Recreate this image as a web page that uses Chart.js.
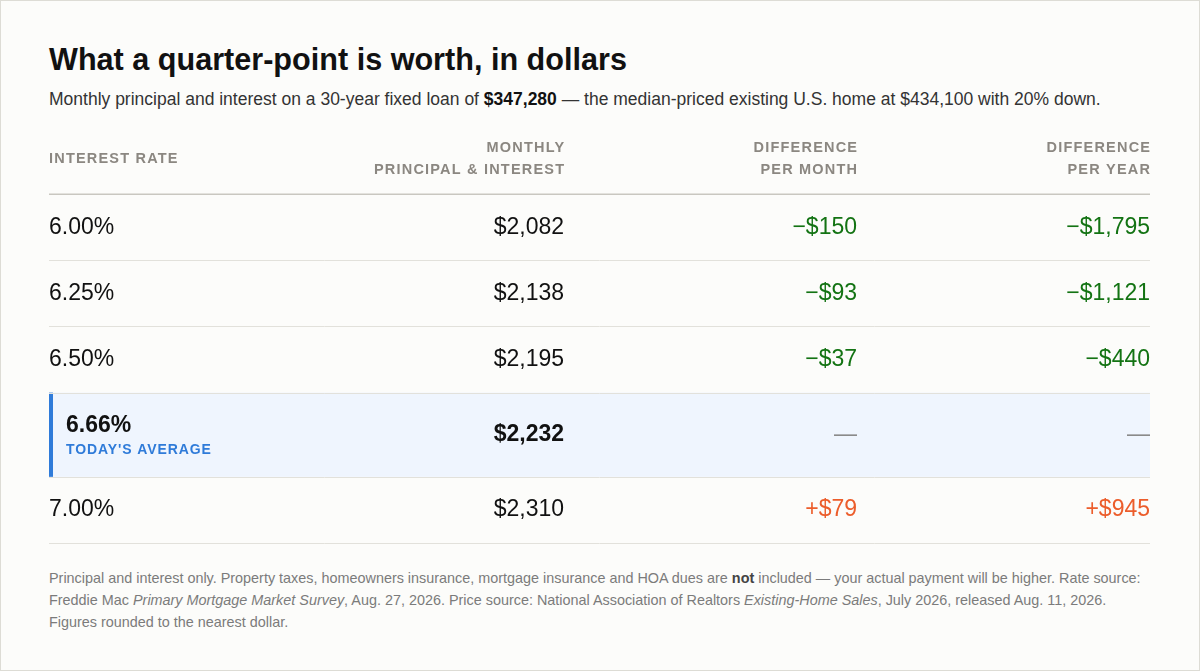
<!DOCTYPE html>
<html>
<head>
<meta charset="utf-8">
<script src="https://cdn.jsdelivr.net/npm/chart.js@4/dist/chart.umd.min.js"></script>
<style>
  html, body { margin: 0; padding: 0; }
  body { width: 1200px; height: 671px; overflow: hidden; font-family: "Liberation Sans", Arial, sans-serif; }
  .card { position: relative; width: 1198px; height: 669px; border: 1px solid #dddcd5; background: #fcfcfa; }
  .title { position: absolute; left: 48px; top: 41px; font-size: 30.6px; line-height: 34px; font-weight: bold; color: #111; white-space: nowrap; }
  .sub { position: absolute; left: 48px; top: 87px; font-size: 17.5px; line-height: 22px; color: #333; white-space: nowrap; }
  .sub b { color: #111; }
  .table { position: absolute; left: -1px; top: 127px; width: 1200px; height: 420px; }
  .note { position: absolute; left: 48px; top: 566px; font-size: 14.4px; line-height: 22px; color: #7b7b7b; white-space: nowrap; }
  .note b { color: #444; }
</style>
</head>
<body>
<div class="card">
  <div class="title">What a quarter-point is worth, in dollars</div>
  <div class="sub">Monthly principal and interest on a 30-year fixed loan of <b>$347,280</b> — the median-priced existing U.S. home at $434,100 with 20% down.</div>
  <div class="table"><canvas id="rateTable"></canvas></div>
  <div class="note">Principal and interest only. Property taxes, homeowners insurance, mortgage insurance and HOA dues are <b>not</b> included — your actual payment will be higher. Rate source:<br>Freddie Mac <i>Primary Mortgage Market Survey</i>, Aug. 27, 2026. Price source: National Association of Realtors <i>Existing-Home Sales</i>, July 2026, released Aug. 11, 2026.<br>Figures rounded to the nearest dollar.</div>
</div>
<script>
// table data
const rates = ["6.00%", "6.25%", "6.50%", "6.66%", "7.00%"];
const monthlyPayment = [2082, 2138, 2195, 2232, 2310];
const diffPerMonth = [-150, -93, -37, null, 79];
const diffPerYear = [-1795, -1121, -440, null, 945];
const currentIndex = 3;
const currentLabel = "TODAY'S AVERAGE";
const headers = [
  ["INTEREST RATE"],
  ["MONTHLY", "PRINCIPAL & INTEREST"],
  ["DIFFERENCE", "PER MONTH"],
  ["DIFFERENCE", "PER YEAR"],
];

// column anchors, percent of table width (first is left edge, rest are right edges)
const colX = [0, 46.78, 73.39, 100];
const FONT = '"Liberation Sans", Arial, sans-serif';

// row layout in row units: header = 1, normal row = 1, current row taller
function rowSpan(i) {
  return i === currentIndex ? 84 / 66 : 1;
}
const rowTop = [];
let acc = 1;
rates.forEach(function (r, i) {
  rowTop.push(acc);
  acc += rowSpan(i);
});
const totalUnits = acc;

function money(v) {
  return "$" + Math.abs(v).toLocaleString("en-US");
}
function signed(v) {
  if (v === null) return "—";
  return (v < 0 ? "\u2212" : "+") + money(v);
}

const cells = [
  rates,
  monthlyPayment.map(money),
  diffPerMonth.map(signed),
  diffPerYear.map(signed),
];
const cellValues = [null, monthlyPayment, diffPerMonth, diffPerYear];

function columnData(c) {
  return rates.map(function (r, i) {
    return { x: colX[c], y: rowTop[i] + rowSpan(i) / 2 };
  });
}

function textColor(c, i) {
  const v = cellValues[c] ? cellValues[c][i] : 0;
  if (c < 2) return "#111";
  if (v === null) return "#8a8a8a";
  return v < 0 ? "#137313" : "#ec5d2b";
}

function drawSpaced(ctx, text, x, y, spacing, align) {
  ctx.letterSpacing = spacing + "px";
  ctx.textAlign = align;
  // trailing letter spacing pushes right-aligned text left
  ctx.fillText(text, align === "right" ? x + spacing : x, y);
  ctx.letterSpacing = "0px";
}

const tablePlugin = {
  id: "tablePlugin",
  beforeDatasetsDraw: function (chart) {
    const ctx = chart.ctx;
    const xs = chart.scales.x;
    const ys = chart.scales.y;
    const left = xs.getPixelForValue(0);
    const right = xs.getPixelForValue(100);
    ctx.save();
    // current row highlight
    const hTop = ys.getPixelForValue(rowTop[currentIndex]);
    const hBot = ys.getPixelForValue(rowTop[currentIndex] + rowSpan(currentIndex));
    ctx.fillStyle = "#eff5fe";
    ctx.fillRect(left, hTop, right - left, hBot - hTop);
    ctx.fillStyle = "#2f7bd9";
    ctx.fillRect(left, hTop, 4, hBot - hTop);
    // row rules
    rates.forEach(function (r, i) {
      const y = Math.round(ys.getPixelForValue(rowTop[i] + rowSpan(i))) + 0.5;
      ctx.strokeStyle = "#e2e1db";
      ctx.lineWidth = 1;
      ctx.beginPath();
      ctx.moveTo(left, y);
      ctx.lineTo(right, y);
      ctx.stroke();
    });
    // header rule
    const hy = ys.getPixelForValue(1);
    ctx.strokeStyle = "#c9c7c0";
    ctx.lineWidth = 1.5;
    ctx.beginPath();
    ctx.moveTo(left, hy);
    ctx.lineTo(right, hy);
    ctx.stroke();
    ctx.restore();
  },
  afterDatasetsDraw: function (chart) {
    const ctx = chart.ctx;
    const xs = chart.scales.x;
    const ys = chart.scales.y;
    ctx.save();
    ctx.textBaseline = "middle";
    // header labels
    ctx.fillStyle = "#8b8781";
    ctx.font = "bold 14.5px " + FONT;
    const headMid = ys.getPixelForValue(1) - 35;
    headers.forEach(function (lines, c) {
      const x = xs.getPixelForValue(colX[c]);
      const align = c === 0 ? "left" : "right";
      lines.forEach(function (line, k) {
        const y = headMid + (k - (lines.length - 1) / 2) * 22;
        drawSpaced(ctx, line, x, y, 1.2, align);
      });
    });
    // body cells, positioned from the dataset points
    chart.data.datasets.forEach(function (ds, c) {
      const meta = chart.getDatasetMeta(c);
      meta.data.forEach(function (pt, i) {
        const current = i === currentIndex;
        const v = cellValues[c] ? cellValues[c][i] : 0;
        ctx.fillStyle = textColor(c, i);
        ctx.font = (current && v !== null ? "bold " : "") + "23px " + FONT;
        if (c === 0) {
          ctx.textAlign = "left";
          if (current) {
            ctx.fillText(cells[c][i], pt.x + 17, pt.y - 9);
            ctx.fillStyle = "#2f7bd9";
            ctx.font = "bold 14px " + FONT;
            drawSpaced(ctx, currentLabel, pt.x + 17, pt.y + 15, 0.9, "left");
          } else {
            ctx.fillText(cells[c][i], pt.x, pt.y);
          }
        } else {
          ctx.textAlign = "right";
          ctx.fillText(cells[c][i], pt.x, pt.y);
        }
      });
    });
    ctx.restore();
  },
};

const chart = new Chart(document.getElementById("rateTable"), {
  type: "scatter",
  data: {
    datasets: headers.map(function (h, c) {
      return {
        label: h.join(" "),
        data: columnData(c),
        pointRadius: 0,
        pointHoverRadius: 0,
      };
    }),
  },
  options: {
    responsive: true,
    maintainAspectRatio: false,
    animation: false,
    events: [],
    layout: { padding: { left: 49, right: 50, top: 0, bottom: 5 } },
    scales: {
      x: { type: "linear", min: 0, max: 100, display: false },
      y: { type: "linear", min: 0, max: totalUnits, reverse: true, display: false },
    },
    plugins: {
      legend: { display: false },
      tooltip: { enabled: false },
    },
  },
  plugins: [tablePlugin],
});
</script>
</body>
</html>
